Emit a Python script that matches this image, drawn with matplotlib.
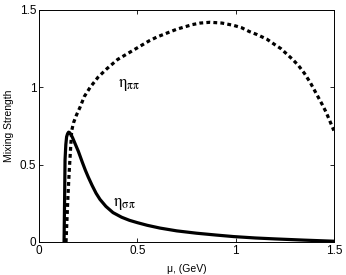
import matplotlib
matplotlib.use('Agg')
import matplotlib.pyplot as plt

# eta_pipi (dashed)
mu_pp = [0.137, 0.142, 0.147, 0.153, 0.16, 0.166, 0.175, 0.19, 0.208, 0.23, 0.26, 0.3, 0.345,
         0.4, 0.44, 0.48, 0.52, 0.56, 0.6, 0.65, 0.7, 0.74, 0.78, 0.82, 0.87, 0.93, 0.99, 1.03,
         1.07, 1.11, 1.16, 1.2, 1.23, 1.26, 1.29, 1.32, 1.35, 1.38, 1.41, 1.44, 1.46, 1.48, 1.5]
eta_pp = [0.0, 0.15, 0.3, 0.45, 0.6, 0.72, 0.77, 0.82, 0.87, 0.94, 1.0, 1.065, 1.12,
          1.18, 1.21, 1.24, 1.27, 1.30, 1.325, 1.35, 1.375, 1.39, 1.405, 1.415, 1.42, 1.415, 1.40, 1.385,
          1.36, 1.34, 1.31, 1.275, 1.25, 1.215, 1.18, 1.14, 1.09, 1.03, 0.96, 0.89, 0.84, 0.78, 0.72]

# eta_sigmapi (solid)
mu_sp = [0.127, 0.13, 0.132, 0.136, 0.14, 0.145, 0.15, 0.155, 0.162, 0.17, 0.18, 0.19, 0.2,
         0.21, 0.22, 0.235, 0.25, 0.27, 0.29, 0.31, 0.34, 0.376, 0.42, 0.46, 0.5, 0.55, 0.615,
         0.7, 0.8, 0.9, 0.99, 1.1, 1.2, 1.35, 1.5]
eta_sp = [0.0, 0.3, 0.53, 0.63, 0.68, 0.70, 0.71, 0.707, 0.695, 0.675, 0.645, 0.615, 0.585,
          0.55, 0.515, 0.465, 0.42, 0.365, 0.315, 0.275, 0.23, 0.19, 0.16, 0.14, 0.125, 0.108, 0.09,
          0.072, 0.057, 0.045, 0.035, 0.026, 0.02, 0.012, 0.005]

plt.rcParams['font.family'] = ['Liberation Sans', 'DejaVu Sans']
plt.rcParams['mathtext.fontset'] = 'stix'

fig = plt.figure(figsize=(3.46, 2.75), dpi=100)
ax = fig.add_axes([0.113, 0.12, 0.852, 0.844])

ax.plot(mu_pp, eta_pp, color='black', lw=2.3, linestyle=(0, (1.2, 1.0)))
ax.plot(mu_sp, eta_sp, color='black', lw=2.3)

ax.text(0.4, 1.0, r'$\mathrm{\eta}_{\mathrm{\pi\pi}}$', fontsize=12)
ax.text(0.375, 0.235, r'$\mathrm{\eta}_{\mathrm{\sigma\pi}}$', fontsize=12)

ax.set_xlim(0, 1.5)
ax.set_ylim(0, 1.5)
ax.set_xticks([0, 0.5, 1, 1.5])
ax.set_xticklabels(['0', '0.5', '1', '1.5'])
ax.set_yticks([0, 0.5, 1, 1.5])
ax.set_yticklabels(['0', '0.5', '1', '1.5'])
ax.tick_params(direction='in', top=True, right=True, length=3, width=0.6, labelsize=8.5, pad=2)
for s in ax.spines.values():
    s.set_linewidth(0.7)

ax.set_xlabel('μ, (GeV)', fontsize=7.5, labelpad=5)
ax.set_ylabel('Mixing Strength', fontsize=7.5, labelpad=4)

fig.savefig('out.png', dpi=100)
